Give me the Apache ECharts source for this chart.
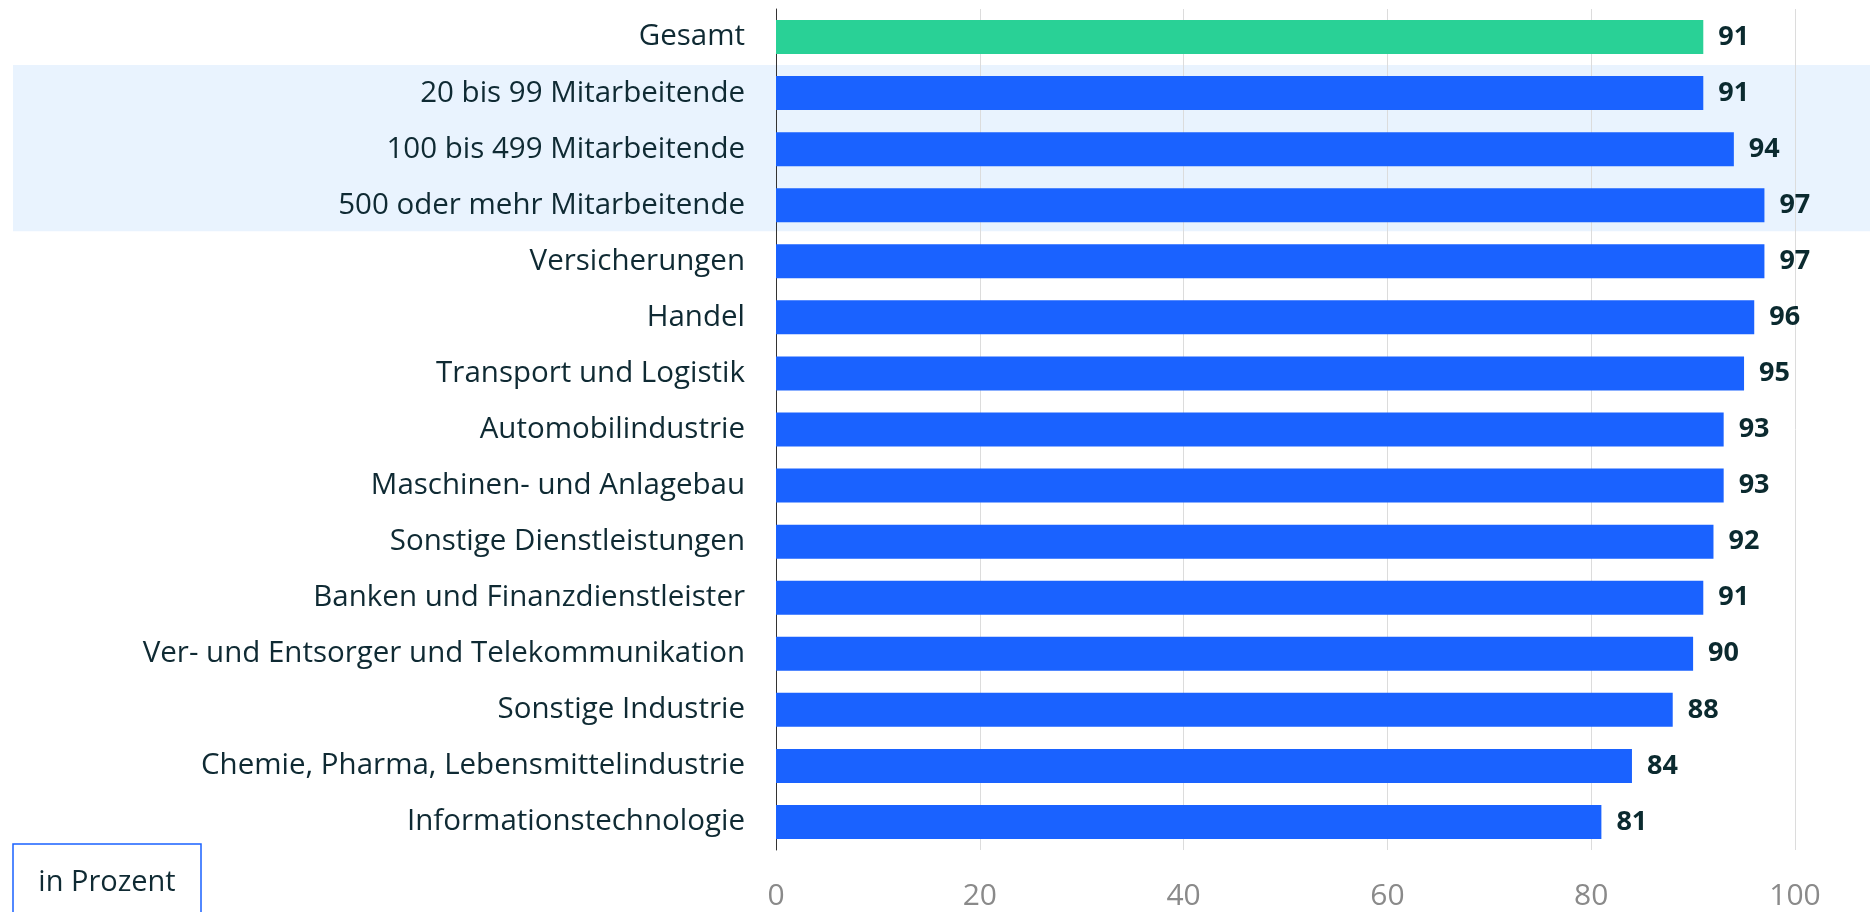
<!DOCTYPE html>
<html>
<head>
<meta charset="utf-8">
<script src="https://cdn.jsdelivr.net/npm/echarts@6/dist/echarts.min.js"></script>
<style>
  html, body { margin: 0; padding: 0; background: #fff; }
  #chart { width: 1870px; height: 912px; }
</style>
</head>
<body>
<div id="chart"></div>
<script>
  // Anteil in Prozent
  const categories = [
    'Gesamt',
    '20 bis 99 Mitarbeitende',
    '100 bis 499 Mitarbeitende',
    '500 oder mehr Mitarbeitende',
    'Versicherungen',
    'Handel',
    'Transport und Logistik',
    'Automobilindustrie',
    'Maschinen- und Anlagebau',
    'Sonstige Dienstleistungen',
    'Banken und Finanzdienstleister',
    'Ver- und Entsorger und Telekommunikation',
    'Sonstige Industrie',
    'Chemie, Pharma, Lebensmittelindustrie',
    'Informationstechnologie'
  ];
  const values = [91, 91, 94, 97, 97, 96, 95, 93, 93, 92, 91, 90, 88, 84, 81];
  const xTicks = [0, 20, 40, 60, 80, 100];
  const highlighted = ['20 bis 99 Mitarbeitende', '500 oder mehr Mitarbeitende'];

  const FONT = 'Open Sans';
  const TEXT = '#0f2a33';
  const BLUE = '#1a62ff';
  const GREEN = '#29d196';

  const chartObj = echarts.init(document.getElementById('chart'));

  chartObj.setOption({
    animation: false,
    textStyle: { fontFamily: FONT },
    grid: { left: 776, right: 75, top: 9, bottom: 62, containLabel: false },
    xAxis: {
      type: 'value',
      min: xTicks[0],
      max: xTicks[xTicks.length - 1],
      interval: 20,
      axisLine: { show: false },
      axisTick: { show: false },
      splitLine: { lineStyle: { color: '#dcdcdc', width: 1 } },
      axisLabel: { color: '#8a8a8a', fontSize: 30, margin: 31, fontFamily: FONT }
    },
    yAxis: {
      type: 'category',
      inverse: true,
      data: categories,
      axisLine: { show: true, lineStyle: { color: '#333', width: 1 } },
      axisTick: { show: false },
      axisLabel: { color: TEXT, fontSize: 29.5, margin: 31, fontFamily: FONT }
    },
    series: [{
      type: 'bar',
      barWidth: 34,
      data: values.map((v, i) => ({
        value: v,
        itemStyle: { color: i === 0 ? GREEN : BLUE }
      })),
      label: {
        show: true,
        position: 'right',
        distance: 15,
        color: '#0b2a2f',
        fontWeight: 'bold',
        fontSize: 27,
        fontFamily: FONT
      }
    }]
  });

  // Hintergrundband fuer die Groessenklassen + Einheiten-Box
  function drawExtras() {
    const y1 = chartObj.convertToPixel({ yAxisIndex: 0 }, highlighted[0]);
    const y2 = chartObj.convertToPixel({ yAxisIndex: 0 }, highlighted[1]);
    const step = chartObj.convertToPixel({ yAxisIndex: 0 }, categories[1]) -
                 chartObj.convertToPixel({ yAxisIndex: 0 }, categories[0]);
    chartObj.setOption({
      graphic: [
        {
          type: 'rect',
          z: -10,
          silent: true,
          shape: { x: 13, y: y1 - step / 2, width: 1870 - 13, height: y2 - y1 + step - 2 },
          style: { fill: '#e9f3fe' }
        },
        {
          type: 'rect',
          shape: { x: 13, y: 844, width: 188, height: 90 },
          style: { fill: '#fff', stroke: BLUE, lineWidth: 1.5 }
        },
        {
          type: 'text',
          x: 107,
          y: 883,
          style: {
            text: 'in Prozent',
            fill: TEXT,
            fontSize: 29,
            fontFamily: FONT,
            align: 'center',
            verticalAlign: 'middle'
          }
        }
      ]
    });
  }
  drawExtras();
</script>
</body>
</html>
